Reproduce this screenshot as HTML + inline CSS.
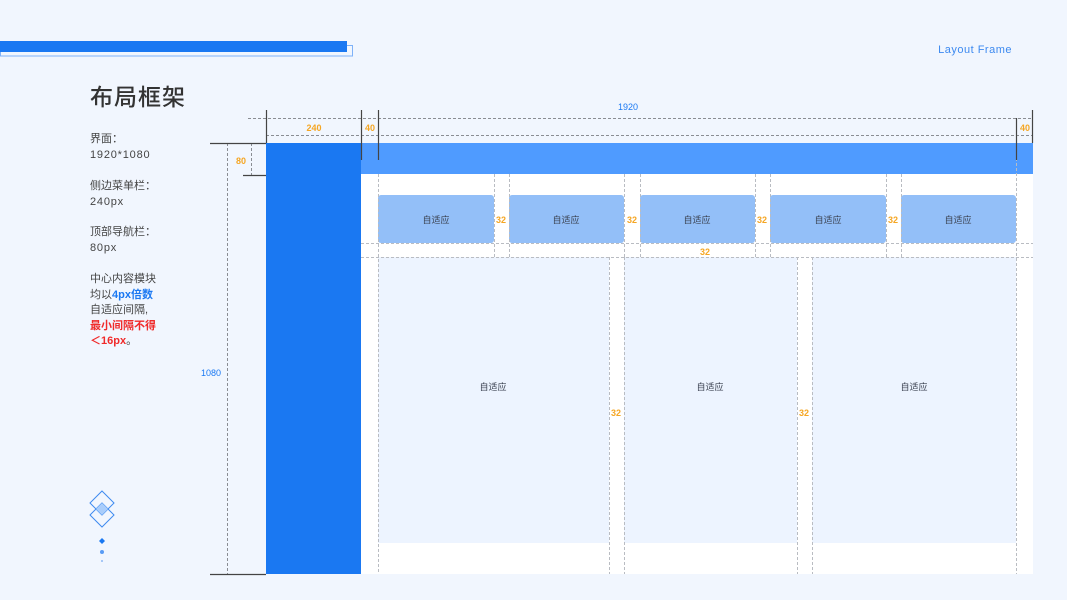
<!DOCTYPE html>
<html><head><meta charset="utf-8"><style>
html,body{margin:0;padding:0;background:#f1f6fe;}
svg{display:block}
text{font-family:"Liberation Sans","Noto Sans CJK SC",sans-serif}
</style></head><body>
<svg width="1067" height="600" viewBox="0 0 1067 600" xmlns="http://www.w3.org/2000/svg">
<rect width="1067" height="600" fill="#f1f6fe"/>
<rect x="0.5" y="45.5" width="352" height="10.5" fill="none" stroke="#7fb2f8" stroke-width="1"/>
<rect x="0" y="41" width="347" height="11" fill="#1a78f2"/>
<text x="1012" y="53" font-size="11" fill="#3d8af0" text-anchor="end" letter-spacing="0.5">Layout Frame</text>
<text x="90" y="105" font-size="23" font-weight="500" fill="#333" letter-spacing="1">布局框架</text>
<g font-size="11" fill="#444">
<text x="90" y="142">界面：</text>
<text x="90" y="158" letter-spacing="0.8">1920*1080</text>
<text x="90" y="189">侧边菜单栏：</text>
<text x="90" y="205" letter-spacing="0.8">240px</text>
<text x="90" y="235">顶部导航栏：</text>
<text x="90" y="251" letter-spacing="0.8">80px</text>
<text x="90" y="282">中心内容模块</text>
<text x="90" y="298">均以<tspan fill="#1a78f2" font-weight="bold">4px倍数</tspan></text>
<text x="90" y="313">自适应间隔,</text>
<text x="90" y="329" fill="#f02a2a" font-weight="bold">最小间隔不得</text>
<text x="90" y="344" fill="#f02a2a" font-weight="bold">＜16px<tspan font-weight="normal" fill="#444">。</tspan></text>
</g>
<g fill="none" stroke="#3d8af0" stroke-width="1">
<path d="M102 491 L114 503 L102 515 L90 503 Z"/>
<path d="M102 503 L114 515 L102 527 L90 515 Z"/>
</g>
<path d="M102 503 L108 509 L102 515 L96 509 Z" fill="#a9cdfb"/>
<path d="M102 538 L105 541 L102 544 L99 541 Z" fill="#1a78f2"/>
<circle cx="102" cy="552" r="2" fill="#5a9cf5"/>
<circle cx="102" cy="561" r="1" fill="#8fbaf5"/>
<rect x="361" y="174" width="672" height="400" fill="#fff"/>
<rect x="266" y="143" width="95" height="431" fill="#1a78f2"/>
<rect x="361" y="143" width="672" height="31" fill="#4f9bff"/>
<g fill="#93bff8">
<rect x="378" y="195" width="116" height="48" rx="3"/>
<rect x="509" y="195" width="115" height="48" rx="3"/>
<rect x="640" y="195" width="115" height="48" rx="3"/>
<rect x="770" y="195" width="116" height="48" rx="3"/>
<rect x="901" y="195" width="115" height="48" rx="3"/>
</g>
<g fill="#edf4ff">
<rect x="378" y="257" width="231" height="286"/>
<rect x="624" y="257" width="173" height="286"/>
<rect x="812" y="257" width="204" height="286"/>
</g>
<g stroke="#b9bcc2" stroke-width="1" stroke-dasharray="3,2" fill="none">
<path d="M378.5 174V574 M494.5 174V257 M509.5 174V257 M624.5 174V257 M640.5 174V257 M755.5 174V257 M770.5 174V257 M886.5 174V257 M901.5 174V257 M1016.5 118V574"/>
<path d="M609.5 257V574 M624.5 257V574 M797.5 257V574 M812.5 257V574"/>
<path d="M361 243.5H1033 M361 257.5H1033"/>
</g>
<g stroke="#8a8d93" stroke-width="1" stroke-dasharray="3,2" fill="none">
<path d="M248 118.5H1033 M266 135.5H1033"/>
<path d="M251.5 143V175 M227.5 143V574"/>
</g>
<g stroke="#444" stroke-width="1.2" fill="none">
<path d="M266.5 110V143 M361.5 110V160 M378.5 110V160 M1016.5 118V160 M1032.5 110V143"/>
<path d="M210 143.5H266 M243 175.5H266 M210 574.5H266"/>
</g>
<g font-size="9" font-weight="bold" fill="#f5a623" text-anchor="middle">
<text x="314" y="131">240</text>
<text x="370" y="131">40</text>
<text x="1025" y="131">40</text>
<text x="241" y="164">80</text>
<text x="501" y="223">32</text>
<text x="632" y="223">32</text>
<text x="762" y="223">32</text>
<text x="893" y="223">32</text>
<text x="705" y="255">32</text>
<text x="616" y="416">32</text>
<text x="804" y="416">32</text>
</g>
<g font-size="9" fill="#1a78f2" text-anchor="middle">
<text x="628" y="110">1920</text>
<text x="211" y="376">1080</text>
</g>
<g font-size="9" fill="#3a4150" text-anchor="middle">
<text x="436" y="223">自适应</text>
<text x="566" y="223">自适应</text>
<text x="697" y="223">自适应</text>
<text x="828" y="223">自适应</text>
<text x="958" y="223">自适应</text>
<text x="493" y="390">自适应</text>
<text x="710" y="390">自适应</text>
<text x="914" y="390">自适应</text>
</g>
</svg>
</body></html>
